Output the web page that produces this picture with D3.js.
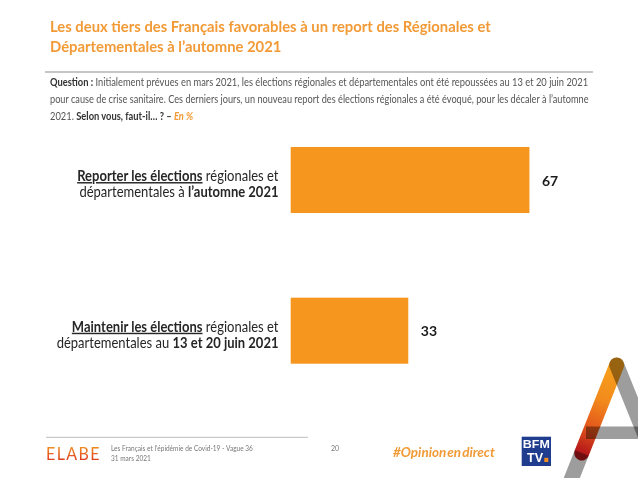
<!DOCTYPE html>
<html><head><meta charset="utf-8">
<script src="https://cdn.jsdelivr.net/npm/d3@7"></script>
<style>
html,body{margin:0;padding:0;background:#fff;}
svg{display:block;font-family:Lato,"Open Sans",sans-serif;}
text{white-space:pre;}
</style></head><body>
<svg id="chart" width="638" height="478"></svg>
<script>
// ---------- data ----------
const titleLines = [
  "Les deux tiers des Français favorables à un report des Régionales et",
  "Départementales à l’automne 2021"
];
const questionLines = [
  [{t:"Question : ", b:true, c:"#333"}, {t:"Initialement prévues en mars 2021, les élections régionales et départementales ont été repoussées au 13 et 20 juin 2021"}],
  [{t:"pour cause de crise sanitaire. Ces derniers jours, un nouveau report des élections régionales a été évoqué, pour les décaler à l’automne"}],
  [{t:"2021. "}, {t:"Selon vous, faut-il… ? – ", b:true, c:"#333"}, {t:"En %", b:true, i:true, c:"#F29A36"}]
];
const categories = ["Reporter", "Maintenir"];
const categoryLabels = [
  [[{t:"Reporter les élections", b:true, u:true}, {t:" régionales et"}],
   [{t:"départementales à "}, {t:"l’automne 2021", b:true}]],
  [[{t:"Maintenir les élections", b:true, u:true}, {t:" régionales et"}],
   [{t:"départementales au "}, {t:"13 et 20 juin 2021", b:true}]]
];
const values = [67, 33];
const footerLines = ["Les Français et l’épidémie de Covid-19 - Vague 36", "31 mars 2021"];
const pageNumber = "20";
const hashtag = "#Opinion en direct";
const brand = "ELABE";
const tvBrand = ["BFM", "TV"];

// ---------- setup ----------
const svg = d3.select("#chart");
const TITLE_C = "#F29A36", BAR_C = "#F6961E", TXT = "#262626", QTXT = "#555";
const defs = svg.append("defs");

function rich(parent, segs, size, color, anchor){
  const t = parent.append("text").attr("font-size", size).attr("fill", color)
    .attr("text-anchor", anchor || "start");
  segs.forEach(s => {
    const ts = t.append("tspan").text(s.t);
    if (s.b) ts.attr("font-weight", 700);
    if (s.i) ts.attr("font-style", "italic");
    if (s.u) ts.style("text-decoration", "underline");
    if (s.c) ts.attr("fill", s.c);
  });
  return t;
}
const width = t => t.node().getComputedTextLength();
const place = (t, x, y, sx) => t.attr("transform", `translate(${x},${y}) scale(${sx},1)`);

// ---------- title ----------
const tG = svg.append("g");
const tl = titleLines.map(s => rich(tG, [{t:s, b:true}], 15.5, TITLE_C));
const tsx = 441 / width(tl[0]);
place(tl[0], 50, 31.5, tsx);
place(tl[1], 50, 51.5, tsx);

svg.append("line").attr("x1", 45).attr("x2", 593).attr("y1", 72).attr("y2", 72)
  .attr("stroke", "#b3b3b3").attr("stroke-width", 1.3);

// ---------- question ----------
const qG = svg.append("g");
const ql = questionLines.map(s => rich(qG, s, 10.5, QTXT));
const qsx1 = 539 / width(ql[0]), qsx2 = 539 / width(ql[1]);
place(ql[0], 50, 85.5, qsx1);
place(ql[1], 50, 102.5, qsx2);
place(ql[2], 50, 119.5, qsx1);

// ---------- bars ----------
const x = d3.scaleLinear().domain([0, 100]).range([290.7, 647]);
const y = d3.scaleBand().domain(categories).range([104.8, 405.9]).paddingInner(0.562).paddingOuter(0.28);

svg.append("g").selectAll("rect").data(values).join("rect")
  .attr("x", x(0)).attr("y", (d, i) => y(categories[i]))
  .attr("width", d => x(d) - x(0)).attr("height", y.bandwidth())
  .attr("fill", BAR_C);

svg.append("g").selectAll("text").data(values).join("text")
  .attr("x", d => x(d) + 12.5)
  .attr("y", (d, i) => y(categories[i]) + y.bandwidth() / 2 + 5.7)
  .attr("font-size", 14).attr("font-weight", 700).attr("fill", "#1a1a1a")
  .text(d => d);

// category labels
const lG = svg.append("g");
const labelTexts = categoryLabels.map(lines => lines.map(l => rich(lG, l, 14.5, TXT, "end")));
const lsx = 222 / width(labelTexts[1][1]);
labelTexts.forEach((lines, i) => {
  const c = y(categories[i]) + y.bandwidth() / 2;
  place(lines[0], 278.5, c + 1, lsx);
  place(lines[1], 278.5, c + 17.5, lsx);
});

// ---------- footer ----------
svg.append("line").attr("x1", 46).attr("x2", 308).attr("y1", 437.3).attr("y2", 437.3)
  .attr("stroke", "#bdbdbd").attr("stroke-width", 1);

const eg = defs.append("linearGradient").attr("id", "elabeGrad").attr("x1", 0).attr("y1", 0).attr("x2", 0).attr("y2", 1);
eg.append("stop").attr("offset", "0%").attr("stop-color", "#f6a423");
eg.append("stop").attr("offset", "100%").attr("stop-color", "#d9281c");
const el = svg.append("text").attr("font-size", 17).attr("font-weight", 400)
  .attr("fill", "url(#elabeGrad)").attr("letter-spacing", 1.5).text(brand);
place(el, 46, 459.5, 55 / width(el));

const fG = svg.append("g");
const fl = footerLines.map(s => rich(fG, [{t:s}], 7, "#777"));
const fsx = 142 / width(fl[0]);
place(fl[0], 111, 451, fsx);
place(fl[1], 111, 461, fsx);
svg.append("text").attr("x", 331).attr("y", 451).attr("font-size", 7).attr("fill", "#777").text(pageNumber);

const ht = svg.append("text").attr("font-size", 14).attr("font-weight", 700).attr("font-style", "italic")
  .attr("fill", TITLE_C).attr("word-spacing", -2).text(hashtag);
place(ht, 393, 456.5, 102 / width(ht));

// BFM TV logo
const bG = svg.append("g");
bG.append("rect").attr("x", 521.7).attr("y", 436.7).attr("width", 29.3).attr("height", 29.3).attr("fill", "#1f3c8e");
bG.append("text").attr("font-family", "Liberation Sans, Arial, sans-serif").attr("font-weight", 700).attr("fill", "#fff")
  .attr("x", 522.8).attr("y", 447.6).attr("font-size", 10.5)
  .attr("textLength", 27).attr("lengthAdjust", "spacingAndGlyphs").text(tvBrand[0]);
bG.append("text").attr("font-family", "Liberation Sans, Arial, sans-serif").attr("font-weight", 700).attr("fill", "#fff")
  .attr("x", 527).attr("y", 462).attr("font-size", 12)
  .attr("textLength", 16).attr("lengthAdjust", "spacingAndGlyphs").text(tvBrand[1]);
bG.append("rect").attr("x", 544.3).attr("y", 457.8).attr("width", 4).attr("height", 4.2).attr("fill", "#f28c1e");

// "A" decoration
const ag = defs.append("linearGradient").attr("id", "aGrad").attr("gradientUnits", "userSpaceOnUse")
  .attr("x1", 616.7).attr("y1", 365).attr("x2", 581.7).attr("y2", 453);
[["0%", "#f7a21b"], ["40%", "#f28a1c"], ["70%", "#e45a1b"], ["100%", "#b3161a"]]
  .forEach(([o, c]) => ag.append("stop").attr("offset", o).attr("stop-color", c));
const aG = svg.append("g");
aG.append("line").attr("x1", 616.7).attr("y1", 365).attr("x2", 581.7).attr("y2", 453)
  .attr("stroke", "url(#aGrad)").attr("stroke-width", 15).attr("stroke-linecap", "round");
const grayStyle = s => s.attr("stroke", "#9d9d9d").attr("stroke-width", 15).style("mix-blend-mode", "multiply");
grayStyle(aG.append("line").attr("x1", 616.7).attr("y1", 365).attr("x2", 664).attr("y2", 482).attr("stroke-linecap", "round"));
grayStyle(aG.append("line").attr("x1", 581.7).attr("y1", 453).attr("x2", 565).attr("y2", 495));
aG.append("rect").attr("x", 586).attr("y", 426.5).attr("width", 60).attr("height", 12.5)
  .attr("fill", "#9d9d9d").style("mix-blend-mode", "multiply");
</script>
</body></html>
